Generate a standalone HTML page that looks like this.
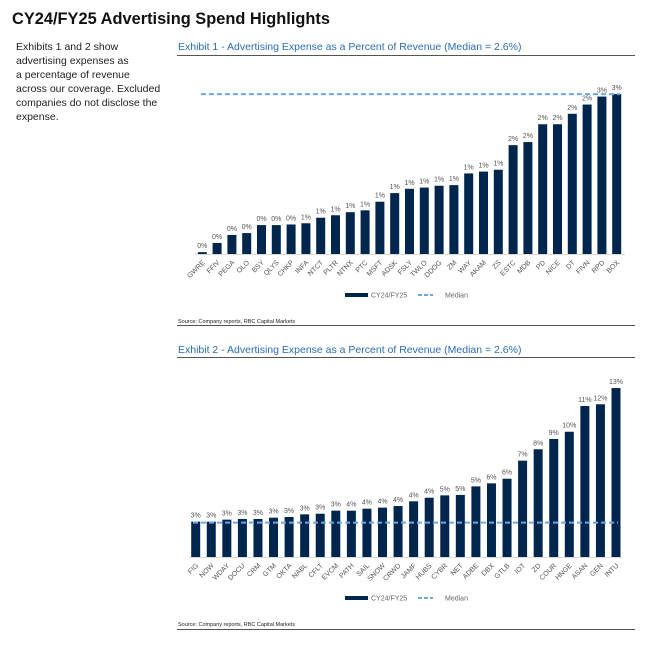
<!DOCTYPE html>
<html><head><meta charset="utf-8"><style>
body{margin:0;width:655px;height:646px;background:#fff;overflow:hidden}
svg{display:block;font-family:"Liberation Sans",sans-serif}
</style></head><body>
<svg id="page" width="655" height="646">
<text x="12" y="24" font-size="17" font-weight="bold" fill="#111" textLength="318" lengthAdjust="spacingAndGlyphs">CY24/FY25 Advertising Spend Highlights</text>
<g font-size="10.5" fill="#222">
<text x="16" y="50">Exhibits 1 and 2 show</text>
<text x="16" y="64">advertising expenses as</text>
<text x="16" y="78">a percentage of revenue</text>
<text x="16" y="92">across our coverage. Excluded</text>
<text x="16" y="106">companies do not disclose the</text>
<text x="16" y="120">expense.</text>
</g>
<text x="178" y="50" font-size="10.5" fill="#2a6db5">Exhibit 1 - Advertising Expense as a Percent of Revenue (Median = 2.6%)</text>
<line x1="177" y1="55.5" x2="635" y2="55.5" stroke="#555" stroke-width="1"/>
<text x="178" y="323" font-size="5.5" fill="#222">Source: Company reports, RBC Capital Markets</text>
<line x1="177" y1="325.5" x2="635" y2="325.5" stroke="#555" stroke-width="1"/>
<text x="178" y="353" font-size="10.5" fill="#2a6db5">Exhibit 2 - Advertising Expense as a Percent of Revenue (Median = 2.6%)</text>
<line x1="177" y1="357.5" x2="635" y2="357.5" stroke="#555" stroke-width="1"/>
<text x="178" y="626" font-size="5.5" fill="#222">Source: Company reports, RBC Capital Markets</text>
<line x1="177" y1="629.5" x2="635" y2="629.5" stroke="#555" stroke-width="1"/>
<g id="c1"></g>
<g id="c2"></g>
</svg>
<script>
const cats1=["GWRE","FFIV","PEGA","OLO","BSY","QLYS","CHKP","INFA","NTCT","PLTR","NTNX","PTC","MSFT","ADSK","FSLY","TWLO","DDOG","ZM","WAY","AKAM","ZS","ESTC","MDB","PD","NICE","DT","FIVN","RPD","BOX"];
const vals1=[0.03,0.18,0.31,0.34,0.47,0.47,0.48,0.50,0.59,0.63,0.68,0.71,0.85,0.99,1.06,1.08,1.11,1.12,1.31,1.34,1.37,1.77,1.82,2.11,2.11,2.28,2.43,2.56,2.60];
const labels1=["0%","0%","0%","0%","0%","0%","0%","1%","1%","1%","1%","1%","1%","1%","1%","1%","1%","1%","1%","1%","1%","2%","2%","2%","2%","2%","2%","3%","3%"];
const median1=2.6;
const cats2=["FIG","NOW","WDAY","DOCU","CRM","GTM","OKTA","NABL","CFLT","EVCM","PATH","SAIL","SNOW","CRWD","JAMF","HUBS","CYBR","NET","ADBE","DBX","GTLB","IOT","ZD","COUR","HNGE","ASAN","GEN","INTU"];
const vals2=[2.68,2.68,2.83,2.88,2.88,2.98,3.03,3.23,3.28,3.51,3.51,3.66,3.74,3.86,4.22,4.49,4.67,4.70,5.35,5.58,5.93,7.30,8.16,8.94,9.49,11.44,11.57,12.80];
const labels2=["3%","3%","3%","3%","3%","3%","3%","3%","3%","3%","4%","4%","4%","4%","4%","4%","5%","5%","5%","6%","6%","7%","8%","9%","10%","11%","12%","13%"];
const median2=2.6;
const NS="http://www.w3.org/2000/svg";
function mk(p,t,a){const e=document.createElementNS(NS,t);for(const k in a)e.setAttribute(k,a[k]);p.appendChild(e);return e;}
function draw(g,cats,vals,labels,median,cfg){
  const n=cats.length;
  const x=i=>cfg.x0+(cfg.x1-cfg.x0)*i/(n-1);
  const y=v=>cfg.base-v*cfg.ppu;
  mk(g,'line',{x1:cfg.ax0,x2:cfg.ax1,y1:cfg.base+0.5,y2:cfg.base+0.5,stroke:'#d9d9d9','stroke-width':1});
  cats.forEach((c,i)=>{
    const r=mk(g,'rect',{x:x(i)-4.5,y:y(vals[i]),width:9,height:cfg.base-y(vals[i]),fill:'#00264d'});
    
    
    const t=mk(g,'text',{x:x(i),y:y(vals[i])-4,'text-anchor':'middle','font-size':7,fill:'#555'});
    t.textContent=labels[i];
    
    
    const l=mk(g,'text',{x:x(i)+3,y:cfg.base+9,'text-anchor':'end','font-size':7,fill:'#555',transform:`rotate(-45 ${x(i)+3} ${cfg.base+9})`});
    l.textContent=c;
    
    
  });
  const m=mk(g,'line',{x1:cfg.mx0,x2:cfg.mx1,y1:y(median),y2:y(median),stroke:'#6fa8e0','stroke-width':2,'stroke-dasharray':'5,3'});
  
  
  const lg=mk(g,'g',{});
  
  
  mk(lg,'rect',{x:345,y:cfg.ly-2,width:23,height:4,fill:'#00264d'});
  mk(lg,'text',{x:371,y:cfg.ly+2.5,'font-size':7,fill:'#666'}).textContent='CY24/FY25';
  mk(lg,'line',{x1:418,x2:433,y1:cfg.ly,y2:cfg.ly,stroke:'#6fa8e0','stroke-width':2,'stroke-dasharray':'4,2'});
  mk(lg,'text',{x:445,y:cfg.ly+2.5,'font-size':7,fill:'#666'}).textContent='Median';
}
draw(document.getElementById('c1'),cats1,vals1,labels1,median1,{x0:202.3,x1:616.7,base:254,ppu:61.5,ax0:195,ax1:625,mx0:201,mx1:620,ly:295});
draw(document.getElementById('c2'),cats2,vals2,labels2,median2,{x0:195.7,x1:616,base:557,ppu:13.2,ax0:189,ax1:622,mx0:193,mx1:618,ly:598});
</script>
</body></html>
